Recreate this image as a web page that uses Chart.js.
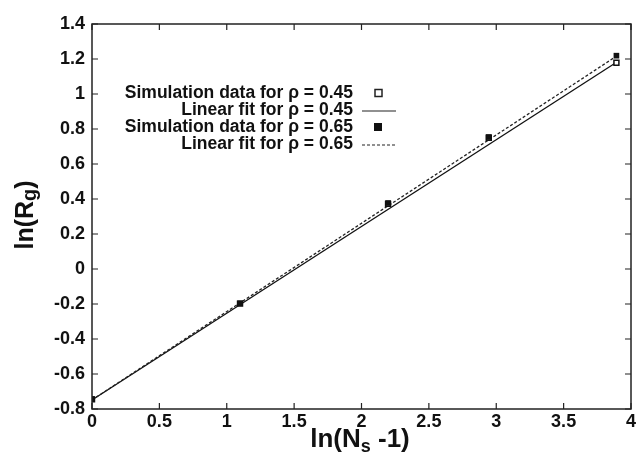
<!DOCTYPE html>
<html>
<head>
<meta charset="utf-8">
<script src="https://cdn.jsdelivr.net/npm/chart.js@4"></script>
<style>
  html, body { margin: 0; padding: 0; background: #fff; }
  #wrap { width: 639px; height: 453px; }
</style>
</head>
<body>
<div id="wrap"><canvas id="rgChart" width="639" height="453"></canvas></div>
<script>
// values
const xValues = [0, 1.0986, 2.1972, 2.9444, 3.8918];   // ln(Ns - 1)
const sim045 = [-0.745, -0.198, 0.372, 0.750, 1.179];
const sim065 = [-0.743, -0.196, 0.377, 0.754, 1.219];
const fitX = [0, 3.89];
const fit045 = [-0.748, 1.180];
const fit065 = [-0.748, 1.215];
const xTicks = [0, 0.5, 1, 1.5, 2, 2.5, 3, 3.5, 4];
const yTicks = [-0.8, -0.6, -0.4, -0.2, 0, 0.2, 0.4, 0.6, 0.8, 1, 1.2, 1.4];
const labels = ['Simulation data for \u03c1 = 0.45', 'Linear fit for \u03c1 = 0.45',
                'Simulation data for \u03c1 = 0.65', 'Linear fit for \u03c1 = 0.65'];

const pts = (xs, ys) => xs.map((x, i) => ({ x: x, y: ys[i] }));
const FONT = '"Liberation Sans", Arial, sans-serif';
const fmt = v => String(Math.round(v * 10) / 10);

// draw "text" pieces with subscripts, centred on 0
function drawParts(c, parts) {
  let w = 0;
  parts.forEach(p => { c.font = p[1]; w += c.measureText(p[0]).width; });
  let x0 = -w / 2;
  parts.forEach(p => { c.font = p[1]; c.fillText(p[0], x0, p[2]); x0 += c.measureText(p[0]).width; });
}

// frame, inward ticks, axis titles and legend
const decorations = {
  id: 'decorations',
  afterDraw(chart) {
    const c = chart.ctx, a = chart.chartArea;
    const xs = chart.scales.x, ys = chart.scales.y;
    c.save();
    c.strokeStyle = '#222';
    c.lineWidth = 1.5;
    c.strokeRect(a.left, a.top, a.right - a.left, a.bottom - a.top);
    c.lineWidth = 1.2;
    c.beginPath();
    xTicks.forEach(v => {
      const px = xs.getPixelForValue(v);
      c.moveTo(px, a.bottom); c.lineTo(px, a.bottom - 6);
      c.moveTo(px, a.top); c.lineTo(px, a.top + 6);
    });
    yTicks.forEach(v => {
      const py = ys.getPixelForValue(v);
      c.moveTo(a.left, py); c.lineTo(a.left + 6, py);
      c.moveTo(a.right, py); c.lineTo(a.right - 6, py);
    });
    c.stroke();

    c.fillStyle = '#111';
    c.textBaseline = 'alphabetic';
    // x title: ln(Ns -1)
    c.save();
    c.translate(360, 447);
    drawParts(c, [['ln(N', 'bold 26px ' + FONT, 0], ['s', 'bold 18px ' + FONT, 5],
                  [' -1)', 'bold 26px ' + FONT, 0]]);
    c.restore();
    // y title: ln(Rg)
    c.save();
    c.translate(33, 215);
    c.rotate(-Math.PI / 2);
    drawParts(c, [['ln(R', 'bold 25px ' + FONT, 0], ['g', 'bold 20px ' + FONT, 3],
                  [')', 'bold 25px ' + FONT, 0]]);
    c.restore();

    // legend
    c.font = 'bold 17.5px ' + FONT;
    c.textAlign = 'right';
    c.textBaseline = 'middle';
    const rowY = [93, 110, 127, 144];
    labels.forEach((t, i) => c.fillText(t, 353, rowY[i]));
    c.lineWidth = 1.5;
    c.fillStyle = '#fff';
    c.fillRect(375, rowY[0] - 3.5, 7, 7);
    c.strokeRect(375, rowY[0] - 3.5, 7, 7);
    c.fillStyle = '#111';
    c.fillRect(374, rowY[2] - 4, 8, 8);
    c.lineWidth = 1.2;
    c.beginPath(); c.moveTo(362, rowY[1] + 1); c.lineTo(396, rowY[1] + 1); c.stroke();
    c.setLineDash([3, 2]);
    c.beginPath(); c.moveTo(362, rowY[3] + 1); c.lineTo(396, rowY[3] + 1); c.stroke();
    c.restore();
  }
};

new Chart(document.getElementById('rgChart'), {
  type: 'scatter',
  data: {
    datasets: [
      { label: labels[2], data: pts(xValues, sim065), pointStyle: 'rect', pointRadius: 4,
        backgroundColor: '#111', borderColor: '#111', borderWidth: 0, order: 0 },
      { label: labels[0], data: pts(xValues, sim045), pointStyle: 'rect', pointRadius: 3.5,
        backgroundColor: '#fff', borderColor: '#111', borderWidth: 1.5, order: 1 },
      { label: labels[3], data: pts(fitX, fit065), showLine: true, borderColor: '#222',
        borderWidth: 1.3, borderDash: [3, 2], pointRadius: 0, order: 2 },
      { label: labels[1], data: pts(fitX, fit045), showLine: true, borderColor: '#111',
        borderWidth: 1.3, pointRadius: 0, order: 3 }
    ]
  },
  options: {
    responsive: false,
    animation: false,
    layout: { padding: { left: 0, right: 8, top: 24, bottom: 0 } },
    plugins: { legend: { display: false }, tooltip: { enabled: false } },
    scales: {
      x: {
        type: 'linear', min: 0, max: 4,
        afterBuildTicks: s => { s.ticks = xTicks.map(v => ({ value: v })); },
        afterFit: s => { s.height = 44; },
        grid: { display: false, drawTicks: false },
        border: { display: false },
        ticks: { color: '#111', font: { family: FONT, size: 18, weight: 'bold' }, padding: 2,
                 maxRotation: 0, autoSkip: false, callback: fmt }
      },
      y: {
        type: 'linear', min: -0.8, max: 1.4,
        afterBuildTicks: s => { s.ticks = yTicks.map(v => ({ value: v })); },
        afterFit: s => { s.width = 92; },
        grid: { display: false, drawTicks: false },
        border: { display: false },
        ticks: { color: '#111', font: { family: FONT, size: 18, weight: 'bold' }, padding: 7,
                 autoSkip: false, callback: fmt }
      }
    }
  },
  plugins: [decorations]
});
</script>
</body>
</html>
